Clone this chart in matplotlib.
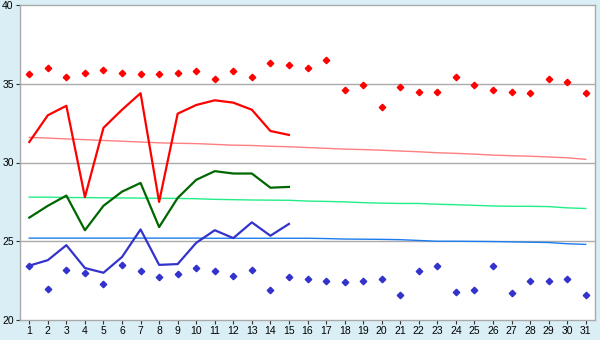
import matplotlib
matplotlib.use("Agg")
import matplotlib.pyplot as plt

# ----- data -----
days = list(range(1, 32))

daily_max = [35.6, 36.0, 35.4, 35.7, 35.9, 35.7, 35.6, 35.6, 35.7, 35.8,
             35.3, 35.8, 35.4, 36.3, 36.2, 36.0, 36.5, 34.6, 34.9, 33.5,
             34.8, 34.5, 34.5, 35.4, 34.9, 34.6, 34.5, 34.4, 35.3, 35.1, 34.4]
daily_min = [23.4, 22.0, 23.2, 23.0, 22.3, 23.5, 23.1, 22.7, 22.9, 23.3,
             23.1, 22.8, 23.2, 21.9, 22.7, 22.6, 22.5, 22.4, 22.5, 22.6,
             21.6, 23.1, 23.4, 21.8, 21.9, 23.4, 21.7, 22.5, 22.5, 22.6, 21.6]

cur_days = list(range(1, 16))
cur_max = [31.3, 33.0, 33.6, 27.8, 32.2, 33.35, 34.4, 27.5, 33.1, 33.65,
           33.95, 33.8, 33.35, 32.0, 31.75]
cur_mean = [26.5, 27.25, 27.9, 25.7, 27.25, 28.15, 28.7, 25.9, 27.75, 28.9,
            29.45, 29.3, 29.3, 28.4, 28.45]
cur_min = [23.45, 23.8, 24.75, 23.3, 23.0, 24.0, 25.75, 23.5, 23.55, 24.9,
           25.7, 25.2, 26.2, 25.35, 26.1]

trend_max = [31.6, 31.55, 31.5, 31.45, 31.4, 31.35, 31.3, 31.25, 31.22, 31.2,
             31.15, 31.1, 31.08, 31.03, 31.0, 30.95, 30.9, 30.85, 30.82, 30.78,
             30.73, 30.68, 30.62, 30.58, 30.53, 30.47, 30.43, 30.4, 30.35, 30.3, 30.2]
trend_mean = [27.8, 27.8, 27.78, 27.77, 27.76, 27.75, 27.74, 27.73, 27.72, 27.7,
              27.66, 27.64, 27.62, 27.61, 27.6, 27.55, 27.53, 27.5, 27.45, 27.42,
              27.4, 27.4, 27.35, 27.32, 27.28, 27.24, 27.22, 27.22, 27.2, 27.12, 27.08]
trend_min = [25.2] * 10 + [25.19] * 6 + [25.17, 25.14, 25.13, 25.12, 25.1, 25.05,
             25.0, 25.0, 24.99, 24.98, 24.96, 24.94, 24.92, 24.84, 24.8]
# ---------------------------------------

plt.rcParams["font.family"] = ["Liberation Sans", "DejaVu Sans"]

bg = "#D9EEF5"
grid_col = "#AAAAAA"

fig = plt.figure(figsize=(6, 3.4), dpi=100, facecolor=bg)
ax = fig.add_axes([20 / 600, 20 / 340, 575 / 600, 315 / 340])
ax.set_facecolor("white")

for y in [25, 30, 35]:
    ax.axhline(y, color=grid_col, lw=1.0, zorder=1)

# Trend lines
ax.plot(days, trend_max, color="#FF7F7F", lw=1.0, zorder=2)
ax.plot(days, trend_mean, color="#22EE88", lw=1.0, zorder=2)
ax.plot(days, trend_min, color="#1C7CEE", lw=1.0, zorder=2)

# Current month lines
ax.plot(cur_days, cur_max, color="#FF0000", lw=1.6, zorder=3)
ax.plot(cur_days, cur_mean, color="#006600", lw=1.6, zorder=3)
ax.plot(cur_days, cur_min, color="#3333CC", lw=1.6, zorder=3)

# Extremes
ax.plot(days, daily_max, linestyle="none", marker="D", markersize=3.3,
        color="#FF0000", zorder=4)
ax.plot(days, daily_min, linestyle="none", marker="D", markersize=3.3,
        color="#3333CC", zorder=4)

ax.set_xlim(0.5, 31.5)
ax.set_ylim(20, 40)
ax.set_xticks(days)
ax.set_yticks([20, 25, 30, 35, 40])

for s in ax.spines.values():
    s.set_color(grid_col)
    s.set_linewidth(1.0)

ax.tick_params(axis="both", colors="#333333", labelcolor="black",
               labelsize=7.5, length=3, width=0.8, pad=1.5)

fig.savefig("out.png", dpi=100, facecolor=bg)
